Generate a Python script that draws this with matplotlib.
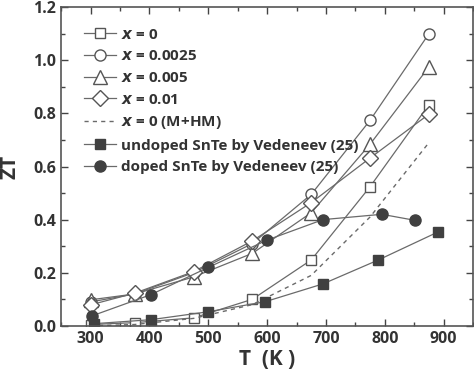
import matplotlib
matplotlib.use("Agg")
import matplotlib.pyplot as plt
from matplotlib.ticker import MultipleLocator

plt.rcParams['font.family'] = ['Open Sans', 'DejaVu Sans']
plt.rcParams['font.weight'] = 'bold'

# measured samples
T_meas = [300, 375, 475, 575, 675, 775, 875]
zt_x0 = [0.005, 0.012, 0.03, 0.10, 0.248, 0.524, 0.833]
zt_x0025 = [0.09, 0.12, 0.20, 0.31, 0.495, 0.774, 1.10]
zt_x005 = [0.098, 0.12, 0.184, 0.273, 0.426, 0.684, 0.975]
zt_x01 = [0.079, 0.123, 0.204, 0.32, 0.464, 0.632, 0.797]
zt_mhm = [0.0, 0.005, 0.028, 0.08, 0.19, 0.41, 0.69]

# Vedeneev (25)
T_undoped = [305, 402, 500, 597, 695, 789, 890]
zt_undoped = [0.008, 0.023, 0.053, 0.091, 0.158, 0.248, 0.353]
T_doped = [303, 402, 500, 600, 695, 795, 852]
zt_doped = [0.038, 0.117, 0.22, 0.323, 0.40, 0.42, 0.397]

line_c = '#6a6a6a'
edge_c = '#555555'
fill_c = '#404040'

fig = plt.figure(figsize=(4.74, 3.78), dpi=100)
ax = fig.add_axes([0.129, 0.138, 0.869, 0.843])

ax.plot(T_meas, zt_x0, '-', marker='s', color=line_c, mec=edge_c, mfc='white', ms=7, lw=0.9, label=r'$\boldsymbol{x}$ = 0')
ax.plot(T_meas, zt_x0025, '-', marker='o', color=line_c, mec=edge_c, mfc='white', ms=8, lw=0.9, label=r'$\boldsymbol{x}$ = 0.0025')
ax.plot(T_meas, zt_x005, '-', marker='^', color=line_c, mec=edge_c, mfc='white', ms=10, lw=0.9, label=r'$\boldsymbol{x}$ = 0.005')
ax.plot(T_meas, zt_x01, '-', marker='D', color=line_c, mec=edge_c, mfc='white', ms=8, lw=0.9, label=r'$\boldsymbol{x}$ = 0.01')
ax.plot(T_meas, zt_mhm, '--', color=line_c, lw=1.0, dashes=(3, 3), label=r'$\boldsymbol{x}$ = 0 (M+HM)')
ax.plot(T_undoped, zt_undoped, '-', marker='s', color=line_c, mec=fill_c, mfc=fill_c, ms=7, lw=0.9, label='undoped SnTe by Vedeneev (25)')
ax.plot(T_doped, zt_doped, '-', marker='o', color=line_c, mec=fill_c, mfc=fill_c, ms=8, lw=0.9, label='doped SnTe by Vedeneev (25)')

ax.set_xlim(250, 950)
ax.set_ylim(0, 1.2)
ax.xaxis.set_major_locator(MultipleLocator(100))
ax.xaxis.set_minor_locator(MultipleLocator(50))
ax.yaxis.set_major_locator(MultipleLocator(0.2))
ax.yaxis.set_minor_locator(MultipleLocator(0.1))
ax.yaxis.set_major_formatter(matplotlib.ticker.FormatStrFormatter('%.1f'))
ax.tick_params(which='both', direction='in', top=True, right=True, colors='#444444', labelcolor='#333333', labelsize=11.5)
ax.tick_params(which='major', length=5, width=1)
ax.tick_params(which='minor', length=3, width=1)
for s in ax.spines.values():
    s.set_color('#555555')
    s.set_linewidth(1.2)

ax.set_xlabel('T  (K )', fontsize=15, fontweight='bold', color='#333333', labelpad=2)
ax.set_ylabel('ZT', fontsize=15, fontweight='bold', color='#333333')
ax.yaxis.set_label_coords(-0.098, 0.5)

leg = ax.legend(loc='upper left', bbox_to_anchor=(0.04, 0.955), frameon=False,
                fontsize=11, handlelength=2.1, handletextpad=0.35,
                labelspacing=0.5, borderaxespad=0)
for t in leg.get_texts():
    t.set_color('#333333')

fig.savefig('out.png', dpi=100)
